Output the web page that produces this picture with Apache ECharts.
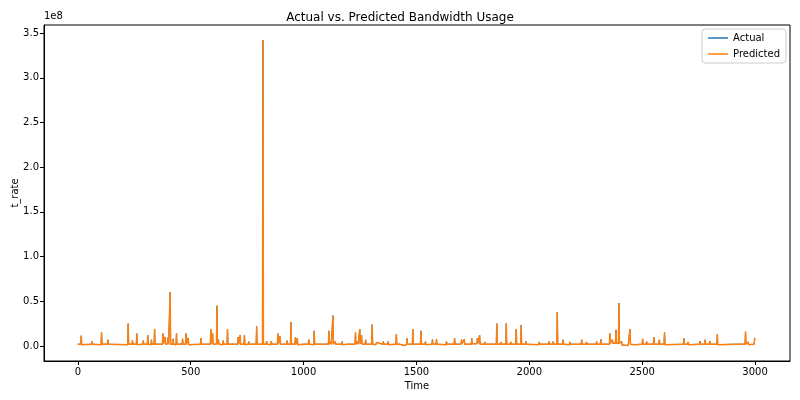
<!DOCTYPE html>
<html>
<head>
<meta charset="utf-8">
<script src="https://cdn.jsdelivr.net/npm/echarts@6/dist/echarts.min.js"></script>
<style>
  html, body { margin: 0; padding: 0; background: #fff; }
  #chart { width: 800px; height: 400px; }
</style>
</head>
<body>
<div id="chart"></div>
<script>
// time steps (one row per visible spike: base, peak, base)
const time = [
  0,
  13, 15, 17,   60, 62, 64,   103, 105, 107,   131, 133, 135,
  221, 223, 225,   240, 242, 244,   259, 261, 263,   288, 290, 292,
  308, 310, 312,   324, 326, 328,   338, 340, 342,   375, 377, 379,
  385, 387, 389,   398, 400, 402,   407, 409, 411,   420, 422, 424,
  435, 437, 439,   462, 464, 466,   477, 479, 481,   487, 489, 491,
  543, 545, 547,   587, 589, 591,   595, 597, 599,   614, 616, 618,
  621, 623, 625,   642, 644, 646,   661, 663, 665,   708, 710, 712,
  717, 719, 721,   736, 738, 740,   755, 757, 759,   790, 792, 794,
  818, 820, 822,   834, 836, 838,   855, 857, 859,   884, 886, 888,
  893, 895, 897,   925, 927, 929,   942, 944, 946,   962, 964, 966,
  970, 972, 974,   1004, 1006, 1008,   1021, 1023, 1025,   1045, 1047, 1049,
  1062, 1064, 1066,   1084, 1086, 1088,   1110, 1112, 1114,   1119, 1121, 1123,
  1128, 1130, 1132,   1138, 1140, 1142,   1169, 1171, 1173,   1196, 1198, 1200,
  1228, 1230, 1232,   1238, 1240, 1242,   1247, 1249, 1251,   1255, 1257, 1259,
  1273, 1275, 1277,   1302, 1304, 1306,   1321, 1323, 1325,   1351, 1353, 1355,
  1373, 1375, 1377,   1409, 1411, 1413,   1425, 1427, 1429,   1447, 1449, 1451,
  1456, 1458, 1460,   1482, 1484, 1486,   1498, 1500, 1502,   1518, 1520, 1522,
  1538, 1540, 1542,   1569, 1571, 1573,   1587, 1589, 1591,   1631, 1633, 1635,
  1667, 1669, 1671,   1698, 1700, 1702,   1710, 1712, 1714,   1743, 1745, 1747,
  1768, 1770, 1772,   1778, 1780, 1782,   1801, 1803, 1805,   1854, 1856, 1858,
  1872, 1874, 1876,   1896, 1898, 1900,   1916, 1918, 1920,   1940, 1942, 1944,
  1962, 1964, 1966,   1983, 1985, 1987,   2041, 2043, 2045,   2086, 2088, 2090,
  2104, 2106, 2108,   2122, 2124, 2126,   2148, 2150, 2152,   2178, 2180, 2182,
  2230, 2232, 2234,   2252, 2254, 2256,   2296, 2298, 2300,   2315, 2317, 2319,
  2355, 2357, 2359,   2366, 2368, 2370,   2382, 2384, 2386,   2395, 2397, 2399,
  2407, 2409, 2411,   2438, 2440, 2442,   2444, 2446, 2448,   2466, 2468, 2470,
  2500, 2502, 2504,   2518, 2520, 2522,   2550, 2552, 2554,   2574, 2576, 2578,
  2597, 2599, 2601,   2683, 2685, 2687,   2702, 2704, 2706,   2754, 2756, 2758,
  2777, 2779, 2781,   2798, 2800, 2802,   2831, 2833, 2835,   2916, 2918, 2920,
  2956, 2958, 2960,   2968, 2970, 2972,
  2996, 2999
]

// t_rate in units of 1e8
const predicted = [
  0.02,
  0.02, 0.115, 0.015,   0.02, 0.05, 0.02,   0.015, 0.15, 0.02,   0.02, 0.07, 0.02,
  0.015, 0.25, 0.02,   0.02, 0.06, 0.02,   0.02, 0.14, 0.015,   0.02, 0.06, 0.02,
  0.02, 0.12, 0.02,   0.015, 0.07, 0.02,   0.02, 0.19, 0.02,   0.02, 0.14, 0.025,
  0.02, 0.10, 0.02,   0.025, 0.10, 0.02,   0.02, 0.60, 0.02,   0.02, 0.08, 0.02,
  0.015, 0.14, 0.02,   0.02, 0.08, 0.02,   0.02, 0.14, 0.02,   0.02, 0.09, 0.015,
  0.02, 0.085, 0.02,   0.02, 0.19, 0.03,   0.03, 0.14, 0.02,   0.02, 0.45, 0.02,
  0.02, 0.07, 0.02,   0.015, 0.06, 0.02,   0.02, 0.19, 0.02,   0.02, 0.10, 0.02,
  0.02, 0.12, 0.02,   0.02, 0.12, 0.015,   0.02, 0.05, 0.02,   0.02, 0.22, 0.02,
  0.02, 3.42, 0.02,   0.02, 0.055, 0.02,   0.015, 0.055, 0.02,   0.02, 0.14, 0.03,
  0.03, 0.11, 0.02,   0.02, 0.06, 0.02,   0.02, 0.265, 0.02,   0.02, 0.10, 0.02,
  0.02, 0.085, 0.015,   0.02, 0.04, 0.02,   0.02, 0.07, 0.02,   0.015, 0.17, 0.02,
  0.02, 0.04, 0.02,   0.02, 0.04, 0.015,   0.02, 0.17, 0.02,   0.02, 0.05, 0.02,
  0.02, 0.34, 0.02,   0.02, 0.05, 0.02,   0.02, 0.05, 0.015,   0.02, 0.04, 0.02,
  0.02, 0.15, 0.02,   0.02, 0.05, 0.02,   0.02, 0.19, 0.025,   0.025, 0.12, 0.02,
  0.02, 0.07, 0.02,   0.02, 0.24, 0.02,   0.015, 0.04, 0.02,   0.02, 0.05, 0.02,
  0.02, 0.05, 0.015,   0.02, 0.13, 0.02,   0.02, 0.04, 0.01,   0.005, -0.005, 0.01,
  0.015, 0.085, 0.02,   0.02, 0.19, 0.02,   0.02, 0.04, 0.02,   0.02, 0.17, 0.02,
  0.02, 0.05, 0.015,   0.02, 0.075, 0.02,   0.02, 0.075, 0.02,   0.015, 0.05, 0.02,
  0.02, 0.09, 0.02,   0.02, 0.07, 0.025,   0.025, 0.075, 0.02,   0.02, 0.085, 0.025,
  0.025, 0.085, 0.03,   0.03, 0.12, 0.02,   0.02, 0.045, 0.02,   0.02, 0.25, 0.02,
  0.02, 0.045, 0.02,   0.02, 0.25, 0.02,   0.02, 0.045, 0.02,   0.02, 0.19, 0.02,
  0.02, 0.235, 0.02,   0.02, 0.05, 0.02,   0.015, 0.045, 0.02,   0.02, 0.05, 0.02,
  0.02, 0.05, 0.02,   0.02, 0.38, 0.02,   0.02, 0.07, 0.02,   0.015, 0.045, 0.02,
  0.02, 0.07, 0.02,   0.02, 0.045, 0.02,   0.02, 0.05, 0.02,   0.02, 0.075, 0.02,
  0.02, 0.14, 0.03,   0.03, 0.07, 0.03,   0.03, 0.18, 0.03,   0.03, 0.48, 0.03,
  0.025, 0.05, 0.01,   0.005, -0.01, 0.01,   0.02, 0.19, 0.02,   0.015, 0.035, 0.02,
  0.02, 0.08, 0.02,   0.02, 0.05, 0.02,   0.02, 0.10, 0.02,   0.02, 0.07, 0.02,
  0.02, 0.15, 0.015,   0.02, 0.085, 0.02,   0.02, 0.045, 0.015,   0.02, 0.055, 0.02,
  0.02, 0.07, 0.02,   0.02, 0.055, 0.02,   0.02, 0.13, 0.015,   0.02, 0.04, 0.02,
  0.02, 0.16, 0.02,   0.02, 0.045, 0.015,
  0.02, 0.09
]

// the actual series sits fully underneath the predicted one
const actual = predicted.slice()

const xTicks = [0, 500, 1000, 1500, 2000, 2500, 3000]
const yTicks = [0, 0.5, 1.0, 1.5, 2.0, 2.5, 3.0, 3.5]

const font = "DejaVu Sans"
const chart = echarts.init(document.getElementById("chart"))

const pairs = (vals) => time.map((t, i) => [t, vals[i]])

chart.setOption({
  animation: false,
  textStyle: { fontFamily: font },
  title: {
    text: "Actual vs. Predicted Bandwidth Usage",
    left: "center",
    top: 7,
    textStyle: { fontFamily: font, fontSize: 12, fontWeight: "normal", color: "#000" }
  },
  graphic: [
    { type: "text", left: 44, top: 11, style: { text: "1e8", font: "10px DejaVu Sans", fill: "#000" } }
  ],
  legend: {
    top: 29,
    right: 14,
    orient: "vertical",
    align: "left",
    icon: "rect",
    itemWidth: 20,
    itemHeight: 1.5,
    itemGap: 6,
    padding: [4, 6, 4, 6],
    borderColor: "#ccc",
    borderWidth: 1,
    borderRadius: 3,
    backgroundColor: "#fff",
    textStyle: { fontFamily: font, fontSize: 10, color: "#000" },
    data: ["Actual", "Predicted"]
  },
  grid: {
    left: 44,
    right: 10,
    top: 25,
    bottom: 39,
    show: true,
    borderColor: "#000",
    borderWidth: 1,
    containLabel: false,
    outerBoundsMode: "none"
  },
  xAxis: {
    type: "value",
    min: -150,
    max: 3155,
    name: "Time",
    nameLocation: "middle",
    nameGap: 20,
    nameMoveOverlap: false,
    nameTextStyle: { fontFamily: font, fontSize: 10, color: "#000" },
    axisLine: { show: true, onZero: false, lineStyle: { color: "#000" } },
    axisTick: { show: true, inside: false, customValues: xTicks, length: 4, lineStyle: { color: "#000" } },
    axisLabel: {
      customValues: xTicks,
      fontFamily: font,
      fontSize: 10,
      color: "#000",
      margin: 6,
      formatter: (v) => String(v)
    },
    splitLine: { show: false }
  },
  yAxis: {
    type: "value",
    min: -0.168,
    max: 3.59,
    name: "t_rate",
    nameLocation: "middle",
    nameGap: 24,
    nameMoveOverlap: false,
    nameTextStyle: { fontFamily: font, fontSize: 10, color: "#000" },
    axisLine: { show: true, onZero: false, lineStyle: { color: "#000" } },
    axisTick: { show: true, inside: false, customValues: yTicks, length: 4, lineStyle: { color: "#000" } },
    axisLabel: {
      customValues: yTicks,
      fontFamily: font,
      fontSize: 10,
      color: "#000",
      margin: 5,
      formatter: (v) => v.toFixed(1)
    },
    splitLine: { show: false }
  },
  series: [
    {
      name: "Actual",
      type: "line",
      data: pairs(actual),
      showSymbol: false,
      color: "#1f77b4",
      lineStyle: { width: 1 }
    },
    {
      name: "Predicted",
      type: "line",
      data: pairs(predicted),
      showSymbol: false,
      color: "#ff7f0e",
      lineStyle: { width: 1.5 }
    }
  ]
})
</script>
</body>
</html>
